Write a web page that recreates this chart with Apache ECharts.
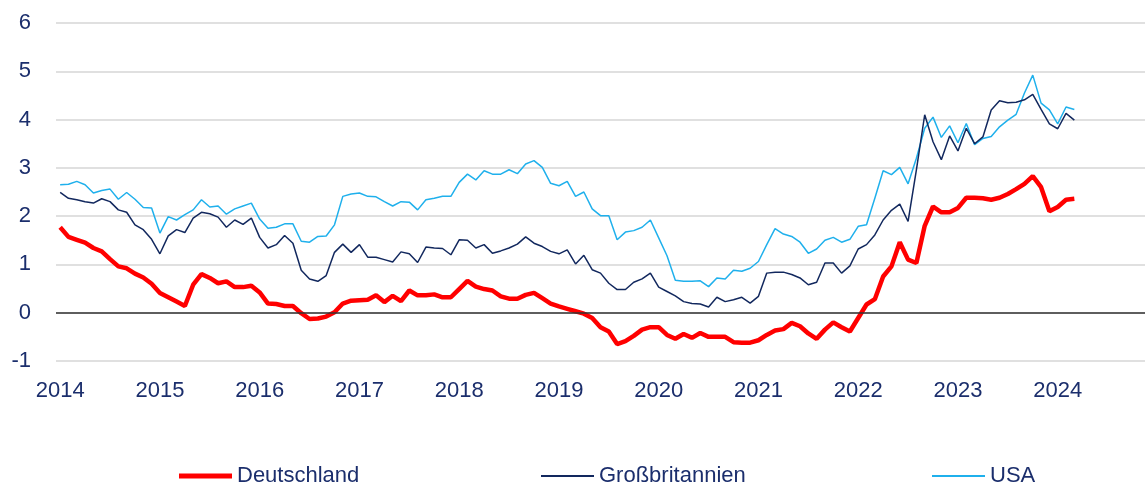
<!DOCTYPE html>
<html>
<head>
<meta charset="utf-8">
<script src="https://cdn.jsdelivr.net/npm/echarts@6/dist/echarts.min.js"></script>
<style>
  html, body { margin: 0; padding: 0; background: #fff; }
  #chart { width: 1145px; height: 488px; }
</style>
</head>
<body>
<div id="chart"></div>
<script>
// Monatswerte Jan 2014 - Mär 2024 (Achse läuft bis Nov 2024)
const years = ['2014', '2015', '2016', '2017', '2018', '2019', '2020', '2021', '2022', '2023', '2024']
const months = ['01', '02', '03', '04', '05', '06', '07', '08', '09', '10', '11', '12']
const lastMonth = '2024-11'

const deutschland = [
  1.77, 1.57, 1.51, 1.45, 1.34, 1.27, 1.11, 0.96, 0.92, 0.81, 0.73, 0.60,
  0.41, 0.32, 0.23, 0.14, 0.58, 0.80, 0.72, 0.61, 0.65, 0.53, 0.53, 0.56,
  0.42, 0.19, 0.18, 0.14, 0.14, -0.01, -0.13, -0.12, -0.08, 0.01, 0.19, 0.25,
  0.26, 0.27, 0.36, 0.22, 0.35, 0.24, 0.46, 0.36, 0.36, 0.38, 0.32, 0.32,
  0.49, 0.66, 0.54, 0.49, 0.46, 0.34, 0.29, 0.29, 0.37, 0.41, 0.30, 0.19,
  0.13, 0.08, 0.03, -0.02, -0.11, -0.30, -0.39, -0.65, -0.59, -0.48, -0.35, -0.30,
  -0.30, -0.46, -0.54, -0.44, -0.52, -0.42, -0.50, -0.50, -0.50, -0.61, -0.62, -0.62,
  -0.57, -0.46, -0.37, -0.34, -0.21, -0.28, -0.43, -0.54, -0.35, -0.20, -0.30, -0.39,
  -0.11, 0.17, 0.28, 0.75, 0.96, 1.46, 1.10, 1.03, 1.80, 2.20, 2.08, 2.08,
  2.17, 2.38, 2.38, 2.37, 2.34, 2.38, 2.46, 2.56, 2.67, 2.83, 2.60, 2.10,
  2.19, 2.34, 2.36
]

const grossbritannien = [
  2.49, 2.37, 2.34, 2.30, 2.27, 2.36, 2.30, 2.13, 2.08, 1.82, 1.72, 1.52,
  1.22, 1.59, 1.72, 1.66, 1.96, 2.08, 2.05, 1.98, 1.77, 1.92, 1.83, 1.96,
  1.56, 1.34, 1.41, 1.60, 1.44, 0.88, 0.70, 0.65, 0.77, 1.25, 1.42, 1.25,
  1.41, 1.15, 1.15, 1.10, 1.05, 1.26, 1.22, 1.04, 1.36, 1.34, 1.33, 1.20,
  1.51, 1.50, 1.34, 1.41, 1.23, 1.28, 1.34, 1.42, 1.57, 1.44, 1.37, 1.27,
  1.22, 1.30, 1.01, 1.19, 0.89, 0.82, 0.61, 0.48, 0.48, 0.63, 0.70, 0.82,
  0.53, 0.44, 0.35, 0.23, 0.19, 0.18, 0.12, 0.32, 0.23, 0.27, 0.32, 0.20,
  0.34, 0.82, 0.84, 0.84, 0.79, 0.72, 0.58, 0.63, 1.03, 1.03, 0.82, 0.97,
  1.32, 1.41, 1.61, 1.92, 2.12, 2.25, 1.89, 2.96, 4.10, 3.54, 3.17, 3.66,
  3.35, 3.82, 3.50, 3.64, 4.20, 4.39, 4.35, 4.36, 4.41, 4.52, 4.21, 3.91,
  3.81, 4.13, 3.99
]

const usa = [
  2.65, 2.66, 2.72, 2.65, 2.48, 2.53, 2.56, 2.35, 2.49, 2.35, 2.18, 2.17,
  1.65, 1.99, 1.92, 2.03, 2.13, 2.34, 2.19, 2.21, 2.04, 2.15, 2.21, 2.27,
  1.94, 1.75, 1.77, 1.84, 1.84, 1.48, 1.46, 1.58, 1.59, 1.82, 2.41, 2.46,
  2.48, 2.41, 2.40, 2.30, 2.21, 2.30, 2.29, 2.13, 2.34, 2.37, 2.41, 2.41,
  2.70, 2.87, 2.75, 2.94, 2.87, 2.87, 2.96, 2.88, 3.08, 3.15, 3.01, 2.68,
  2.63, 2.72, 2.41, 2.50, 2.15, 2.01, 2.01, 1.51, 1.67, 1.70, 1.77, 1.92,
  1.55, 1.18, 0.67, 0.65, 0.65, 0.66, 0.54, 0.72, 0.70, 0.88, 0.86, 0.92,
  1.06, 1.41, 1.74, 1.63, 1.58, 1.46, 1.23, 1.32, 1.50, 1.56, 1.46, 1.52,
  1.79, 1.82, 2.37, 2.94, 2.86, 3.01, 2.67, 3.20, 3.82, 4.05, 3.63, 3.87,
  3.52, 3.92, 3.48, 3.61, 3.65, 3.85, 3.99, 4.11, 4.55, 4.92, 4.34, 4.20,
  3.91, 4.26, 4.21
]

const categories = []
years.forEach(y => {
  months.forEach(m => {
    const key = y + '-' + m
    if (key <= lastMonth) categories.push(key)
  })
})

const textColor = '#1b2e6c'
const font = '"Liberation Sans", Arial, sans-serif'

const chart = echarts.init(document.getElementById('chart'))

// eine Legende je Reihe, damit die Abstände wie im Original sitzen
function legendAt (left, name, thickness) {
  return {
    left: left,
    top: 465,
    padding: 0,
    icon: 'rect',
    itemWidth: 53,
    itemHeight: thickness,
    data: [name],
    textStyle: { color: textColor, fontSize: 22, fontFamily: font }
  }
}

const option = {
  animation: false,
  color: ['#ff0000', '#12285e', '#1fb0ec'],
  grid: { left: 56, right: 0, top: 23, bottom: 127 },
  legend: [
    legendAt(179, 'Deutschland', 5),
    legendAt(541, 'Großbritannien', 2),
    legendAt(932, 'USA', 2)
  ],
  xAxis: {
    type: 'category',
    data: categories,
    boundaryGap: true,
    axisLine: { show: false },
    axisTick: { show: false },
    splitLine: { show: false },
    axisLabel: {
      interval: (idx, val) => val.endsWith('-01'),
      formatter: val => val.slice(0, 4),
      color: textColor,
      fontSize: 22,
      fontFamily: font,
      margin: 19
    }
  },
  yAxis: {
    type: 'value',
    min: -1,
    max: 6,
    interval: 1,
    axisLine: { show: false },
    axisTick: { show: false },
    axisLabel: { color: textColor, fontSize: 22, fontFamily: font, margin: 25 },
    splitLine: { lineStyle: { color: '#d6d6d6', width: 1.5 } }
  },
  series: [
    {
      name: 'Deutschland',
      type: 'line',
      data: deutschland,
      symbol: 'none',
      z: 4,
      lineStyle: { width: 4.5, color: '#ff0000' }
    },
    {
      name: 'Großbritannien',
      type: 'line',
      data: grossbritannien,
      symbol: 'none',
      z: 3,
      lineStyle: { width: 1.5, color: '#12285e' }
    },
    {
      name: 'USA',
      type: 'line',
      data: usa,
      symbol: 'none',
      z: 2,
      lineStyle: { width: 1.5, color: '#1fb0ec' },
      markLine: {
        silent: true,
        symbol: ['none', 'none'],
        label: { show: false },
        lineStyle: { color: '#333333', width: 1.5, type: 'solid' },
        data: [{ yAxis: 0 }]
      }
    }
  ]
}

chart.setOption(option)
</script>
</body>
</html>
